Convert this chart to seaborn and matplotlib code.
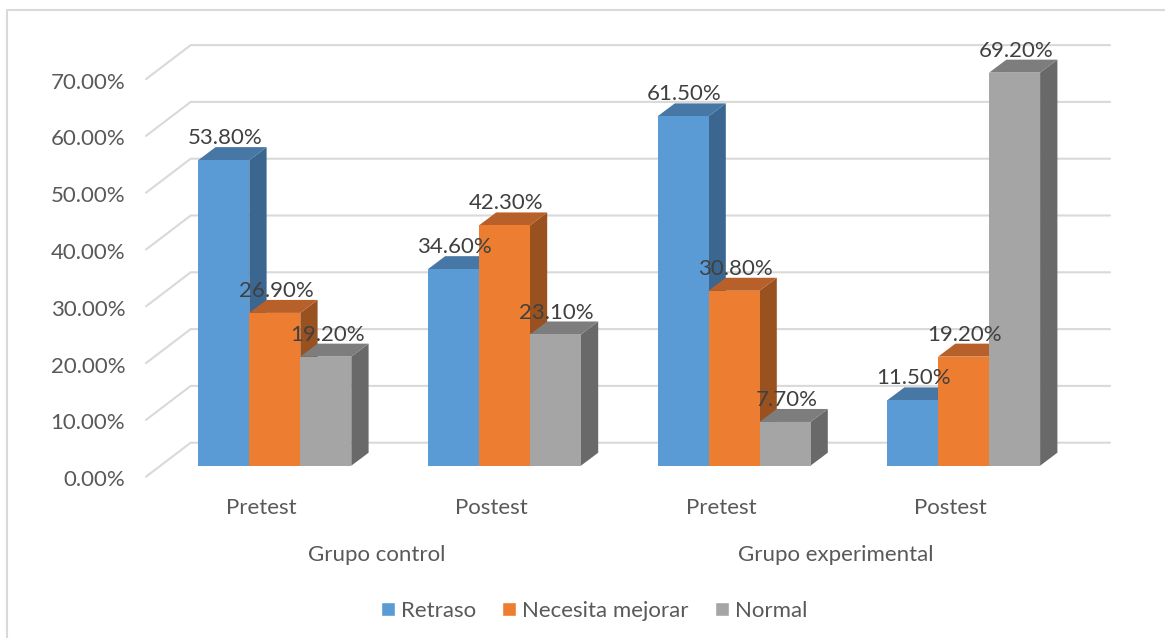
import pandas as pd
import matplotlib
matplotlib.use("Agg")
import matplotlib.pyplot as plt
from matplotlib.lines import Line2D
import seaborn as sns
from matplotlib.patches import Polygon, Patch

# Data
categorias = ["Control Pretest", "Control Postest", "Experimental Pretest", "Experimental Postest"]
etiquetas = ["Pretest", "Postest", "Pretest", "Postest"]
grupos = ["Grupo control", "Grupo experimental"]
series = ["Retraso", "Necesita mejorar", "Normal"]
retraso = [53.8, 34.6, 61.5, 11.5]
necesita = [26.9, 42.3, 30.8, 19.2]
normal = [19.2, 23.1, 7.7, 69.2]
yticks = [0, 10, 20, 30, 40, 50, 60, 70]

colores = ["#5B9BD5", "#ED7D31", "#A5A5A5"]
lados = ["#3A6690", "#9A5120", "#696969"]
techos = ["#4778A5", "#B8602A", "#7D7D7D"]

df = pd.DataFrame({
    "categoria": categorias * 3,
    "serie": [s for s in series for _ in categorias],
    "valor": retraso + necesita + normal,
})

sns.set_style("white")
plt.rcParams["font.family"] = ["Lato", "DejaVu Sans"]

W, H = 1165, 638
fig = plt.figure(figsize=(W / 100, H / 100), dpi=100)

# pixel scale of the front plane
px_cat = 229.6
px_val = 5.68
x0_px = 160.0   # x = -0.5
y0_px = 465.7   # value = 0
x1_px = x0_px + 4 * px_cat
ymin, ymax = -3.0, 72.0
top_px = y0_px - ymax * px_val
bot_px = y0_px - ymin * px_val
ax = fig.add_axes([x0_px / W, 1 - bot_px / H, (x1_px - x0_px) / W, (bot_px - top_px) / H])

sns.barplot(data=df, x="categoria", y="valor", hue="serie", order=categorias, hue_order=series,
            palette=colores, width=153 / px_cat, gap=0, saturation=1, errorbar=None,
            legend=False, ax=ax, linewidth=0)
ax.set_xlim(-0.5, 3.5)
ax.set_ylim(ymin, ymax)
sns.despine(ax=ax, left=True, bottom=True)

# back wall grid with the slanted side wall
suelo = -11.0 / px_val
wall_x = -0.5 + (146 - x0_px) / px_cat
wall_dx = 44.7 / px_cat
wall_dy = 34.0 / px_val
grid_end = -0.5 + (1110 - x0_px) / px_cat
for v in yticks:
    ax.plot([wall_x, wall_x + wall_dx, grid_end],
            [v + suelo, v + suelo + wall_dy, v + suelo + wall_dy],
            color="#D9D9D9", lw=1.5, clip_on=False, zorder=1)

# depth of the bars
dx = 17.3 / px_cat
dy = 13.0 / px_val
barras = [p for p in ax.patches if p.get_height() > 0]
barras = sorted(barras, key=lambda p: p.get_x())
for n, p in enumerate(barras):
    xa = p.get_x()
    xb = xa + p.get_width()
    h = p.get_height()
    idx = colores.index(matplotlib.colors.to_hex(p.get_facecolor()).upper())
    p.set_zorder(3 + n * 0.1 + 0.02)
    ax.add_patch(Polygon([(xb, 0), (xb + dx, dy), (xb + dx, h + dy), (xb, h)],
                         facecolor=lados[idx], edgecolor="none", zorder=3 + n * 0.1))
    ax.add_patch(Polygon([(xa, h), (xa + dx, h + dy), (xb + dx, h + dy), (xb, h)],
                         facecolor=techos[idx], edgecolor="none", zorder=3 + n * 0.1 + 0.01))
    ax.annotate(f"{h:.2f}%", (xa + p.get_width() / 2, h), xytext=(1.0, 15.8),
                textcoords="offset points", ha="center", va="center",
                fontsize=16, color="#404040", zorder=10, annotation_clip=False)

# ticks
ax.set_yticks([v + suelo - 1.5 / px_val for v in yticks], [f"{v:.2f}%" for v in yticks])
ax.set_xticks([i - 13 / px_cat for i in range(4)], etiquetas)
ax.tick_params(axis="y", length=0, pad=25, labelsize=16, labelcolor="#595959")
ax.tick_params(axis="x", length=0, pad=11, labelsize=16, labelcolor="#595959")
ax.set_xlabel("")
ax.set_ylabel("")
ax.patch.set_alpha(0)

# group labels
for pos, g in zip([0.5, 2.5], grupos):
    ax.text(pos - 13 / px_cat, (y0_px - 555) / px_val, g, ha="center", va="center",
            fontsize=16, color="#595959", clip_on=False)

# legend
handles = [Patch(facecolor=c, label=s) for c, s in zip(colores, series)]
fig.legend(handles=handles, loc="center", bbox_to_anchor=(594 / W, 1 - 611 / H), ncol=3,
           frameon=False, fontsize=16, labelcolor="#595959", handlelength=0.63, handleheight=0.63,
           handletextpad=0.25, columnspacing=1.2)

# chart frame, only left and top edges show
fig.add_artist(Line2D([7 / W, 7 / W, 1.0], [0.0, 1 - 10 / H, 1 - 10 / H], transform=fig.transFigure,
                      color="#D9D9D9", lw=1.5))

plt.savefig("out.png", dpi=100)
